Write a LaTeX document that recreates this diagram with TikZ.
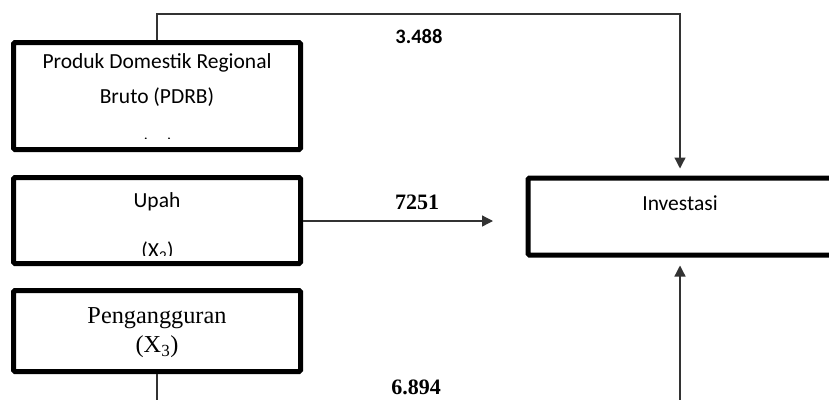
\documentclass[tikz,border=0pt]{standalone}
\usepackage{fontspec}
\setmainfont{Liberation Serif}
\newfontfamily\carlito{Carlito}
\usetikzlibrary{arrows.meta}
\begin{document}
\begin{tikzpicture}[x=1pt,y=-1pt,
  box/.style={draw=black,line width=5pt,rounded corners=1.5pt,inner sep=0pt},
  sanstxt/.style={font=\carlito\fontsize{21.5}{26}\selectfont,inner sep=0pt},
  seriftxt/.style={font=\fontsize{24.3}{28}\selectfont,inner sep=0pt},
  coefserif/.style={font=\bfseries\fontsize{22}{26}\selectfont,inner sep=0pt},
  coefsans/.style={font=\carlito\bfseries\fontsize{20.5}{24}\selectfont,inner sep=0pt},
  link/.style={draw=black!80,line width=1.3pt},
  tip/.style={-{Triangle[length=11pt,width=11pt]}}
]
\useasboundingbox (0,0) rectangle (829,399);
\clip (0,0) rectangle (829,399);

% boxes
\node[box,minimum width=287pt,minimum height=107pt] (pdrb) at (157,96) {};
\node[box,minimum width=287pt,minimum height=86pt] (upah) at (157,220.5) {};
\node[box,minimum width=287pt,minimum height=81pt] (peng) at (157,331) {};
\node[box,minimum width=304pt,minimum height=77pt] (inv) at (680,216.5) {};

% box texts
\node[sanstxt] (pdrbA) at (157,63) {Produk Domestik Regional};
\node[sanstxt] (pdrbB) at (157,97) {Bruto (PDRB)};
\begin{scope}
  \clip (20,120) rectangle (290,138.8);
  \node[sanstxt,anchor=north] (pdrbC) at (157.5,137.3) {(X\textsubscript{1})};
\end{scope}
\node[sanstxt] (upahA) at (157,202) {Upah};
\begin{scope}
  \clip (20,230) rectangle (290,255.5);
  \node[sanstxt,anchor=north] (upahB) at (157.5,242) {(X\textsubscript{2})};
\end{scope}
\node[seriftxt] (pengA) at (157,318) {Pengangguran};
\node[seriftxt] (pengB) at (157,347) {(X\textsubscript{3})};
\node[sanstxt] (invA) at (680,203) {Investasi};

% coefficients
\node[coefsans] (c1) at (419,36) {3.488};
\node[coefserif] (c2) at (417,202) {7251};
\node[coefserif] (c3) at (416,387) {6.894};

% connectors
\coordinate (upahend) at (493,221);
\draw[link,tip,shorten >=7pt] (pdrb.north) -- ++(0,-26) -| (inv.north);
\draw[link,tip] (upah.east |- upahend) -- (upahend);
\draw[link,tip,shorten >=8pt] (peng.south) -- ++(0,40) -| (inv.south);
\end{tikzpicture}
\end{document}
